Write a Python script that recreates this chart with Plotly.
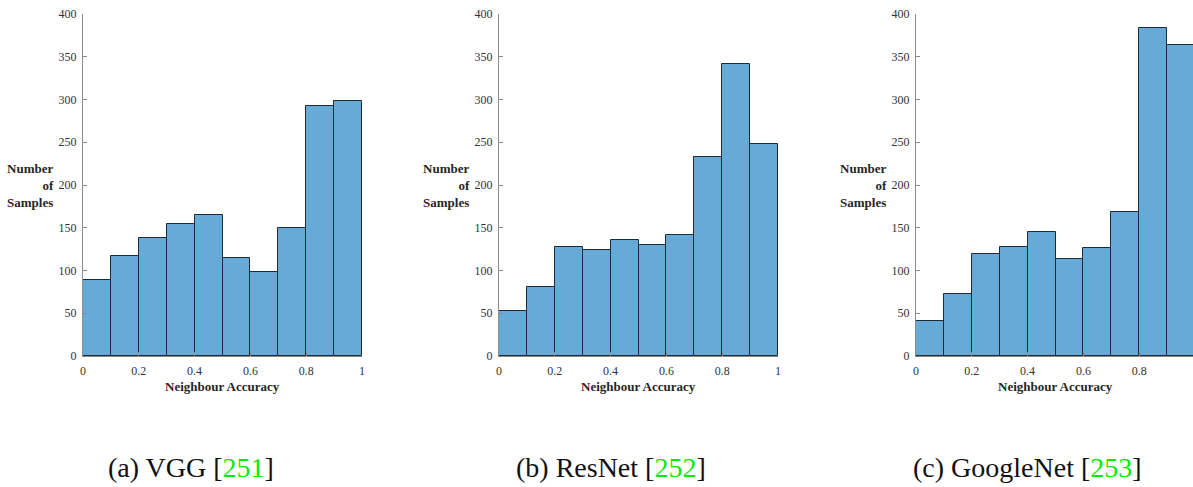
import plotly.graph_objects as go

# Histogram bin edges (neighbour accuracy) and per-bin sample counts
bin_edges = [0.0, 0.1, 0.2, 0.3, 0.4, 0.5, 0.6, 0.7, 0.8, 0.9, 1.0]
vgg_counts = [89, 117, 138, 154, 165, 115, 98, 150, 292, 298]
resnet_counts = [53, 81, 128, 124, 136, 130, 141, 233, 342, 248]
googlenet_counts = [41, 72, 119, 127, 145, 114, 126, 168, 384, 364]

model_names = ["VGG", "ResNet", "GoogleNet"]
panel_letters = ["a", "b", "c"]
citations = ["251", "252", "253"]
all_counts = [vgg_counts, resnet_counts, googlenet_counts]

x_ticks = [0, 0.2, 0.4, 0.6, 0.8, 1]
x_tick_text = ["0", "0.2", "0.4", "0.6", "0.8", "1"]
y_ticks = [0, 50, 100, 150, 200, 250, 300, 350, 400]

W, H = 1193, 487
# plot-area pixel boxes: (left, right) for each panel, shared top/bottom
panel_px = [(83, 362), (499, 778), (916, 1195)]
top_px, bottom_px = 14, 356
caption_cx = [191, 611, 1027]

BAR_FILL = "#66AAD7"
BAR_EDGE = "#1e2a36"
AXIS_GRAY = "#8a8a8a"
TICK_TEXT = "#333333"
SERIF = "Liberation Serif"

fig = go.Figure()
widths = [b - a for a, b in zip(bin_edges[:-1], bin_edges[1:])]

for i, counts in enumerate(all_counts):
    xa = "x" if i == 0 else f"x{i + 1}"
    ya = "y" if i == 0 else f"y{i + 1}"
    fig.add_trace(go.Bar(
        x=bin_edges[:-1], y=counts, width=widths, offset=0,
        marker=dict(color=BAR_FILL, line=dict(color=BAR_EDGE, width=1)),
        xaxis=xa, yaxis=ya, showlegend=False, hoverinfo="x+y",
    ))

    left, right = panel_px[i]
    d0 = left / W
    d1 = min(right / W, 1.0)
    # the last panel runs past the page edge; show only the visible part of [0, 1]
    x_max = (min(right, W) - left) / (right - left)
    ax_common = dict(
        showline=True, linecolor=AXIS_GRAY, linewidth=1, mirror=False,
        showgrid=False, zeroline=False, ticks="inside", ticklen=4,
        tickcolor=AXIS_GRAY, automargin=False,
        tickfont=dict(family=SERIF, size=12, color=TICK_TEXT),
    )
    fig.layout[f"xaxis{'' if i == 0 else i + 1}"] = dict(
        domain=[d0, d1], range=[0, x_max], anchor=ya,
        tickvals=x_ticks, ticktext=x_tick_text, ticklabelstandoff=4, **ax_common,
    )
    fig.layout[f"yaxis{'' if i == 0 else i + 1}"] = dict(
        domain=[1 - bottom_px / H, 1 - top_px / H], range=[0, 400], anchor=xa,
        tickvals=y_ticks, ticklabelstandoff=3, **ax_common,
    )

    # axis titles
    fig.add_annotation(
        x=(left + left + 279) / 2 / W,
        y=1 - 386 / H, xref="paper", yref="paper",
        text="<b>Neighbour Accuracy</b>", showarrow=False,
        font=dict(family=SERIF, size=13, color="#262626"),
        xanchor="center", yanchor="middle",
    )
    fig.add_annotation(
        x=(left - 27) / W, y=1 - 185 / H, xref="paper", yref="paper",
        text="<b>Number<br>of<br>Samples</b>", showarrow=False, align="right",
        font=dict(family=SERIF, size=13, color="#262626"),
        xanchor="right", yanchor="middle",
    )
    # sub-figure caption with coloured citation number
    fig.add_annotation(
        x=caption_cx[i] / W, y=1 - 467 / H, xref="paper", yref="paper",
        text=f"({panel_letters[i]}) {model_names[i]} [<span style='color:#00ee00'>{citations[i]}</span>]",
        showarrow=False, font=dict(family=SERIF, size=28, color="#111111"),
        xanchor="center", yanchor="middle",
    )

fig.update_layout(
    width=W, height=H, margin=dict(l=0, r=0, t=0, b=0),
    paper_bgcolor="white", plot_bgcolor="white", bargap=0,
)

fig.write_html("out.html")
